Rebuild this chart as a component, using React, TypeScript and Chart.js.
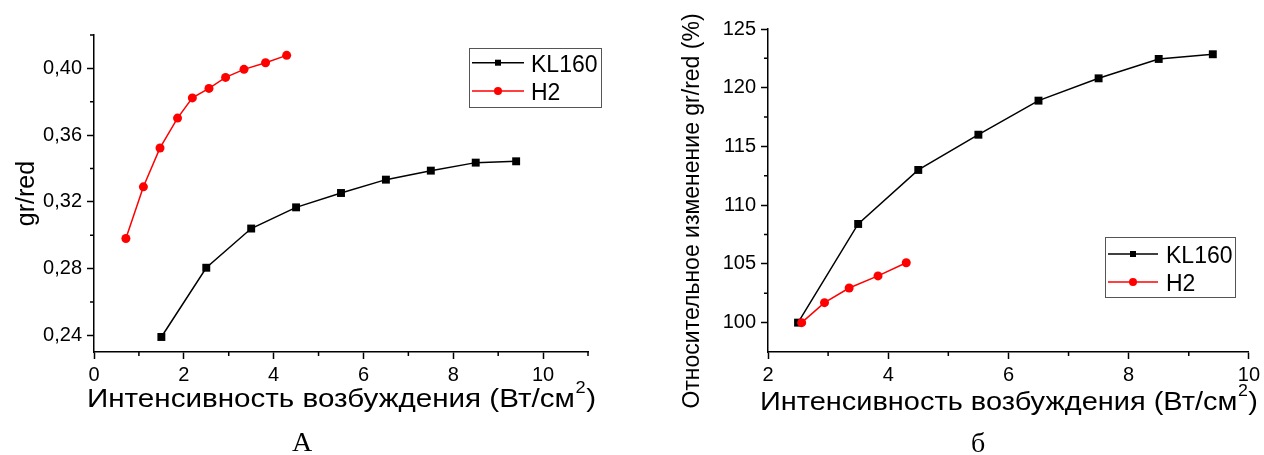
import React, { useEffect, useRef } from 'react';
import { Chart, registerables } from 'chart.js';

Chart.register(...registerables);

// ---------- data ----------
const SERIES_LABELS = ['KL160', 'H2'];
const SERIES_COLORS = ['#000000', '#ff0000'];

// Panel A: gr/red vs excitation intensity
const A_KL160_X = [1.5, 2.5, 3.5, 4.5, 5.5, 6.5, 7.5, 8.5, 9.4];
const A_KL160_Y = [0.239, 0.2805, 0.304, 0.3167, 0.3253, 0.3333, 0.3387, 0.3435, 0.3443];
const A_H2_X = [0.71, 1.1, 1.47, 1.86, 2.19, 2.56, 2.93, 3.34, 3.82, 4.29];
const A_H2_Y = [0.298, 0.329, 0.3523, 0.3702, 0.3823, 0.388, 0.3946, 0.3994, 0.4034, 0.4078];

// Panel б: relative change of gr/red (%)
const B_KL160_X = [2.5, 3.5, 4.5, 5.5, 6.5, 7.5, 8.5, 9.4];
const B_KL160_Y = [100, 108.4, 113.0, 116.0, 118.9, 120.8, 122.45, 122.85];
const B_H2_X = [2.56, 2.94, 3.35, 3.83, 4.3];
const B_H2_Y = [100, 101.7, 102.95, 103.98, 105.1];

// ticks
const A_X_TICKS = [0, 2, 4, 6, 8, 10];
const A_X_MINOR = [1, 3, 5, 7, 9, 11];
const A_Y_TICKS = [0.24, 0.28, 0.32, 0.36, 0.4];
const A_Y_MINOR = [0.26, 0.3, 0.34, 0.38, 0.42];
const B_X_TICKS = [2, 4, 6, 8, 10];
const B_X_MINOR = [3, 5, 7, 9];
const B_Y_TICKS = [100, 105, 110, 115, 120, 125];
const B_Y_MINOR = [102.5, 107.5, 112.5, 117.5, 122.5];

// texts
const X_TITLE = 'Интенсивность возбуждения (Вт/см²)';
const A_Y_TITLE = 'gr/red';
const B_Y_TITLE = 'Относительное изменение gr/red (%)';
const CAPTION_A = 'А';
const CAPTION_B = 'б';

const FONT = '"Liberation Sans", Arial, sans-serif';

// ---------- plugins ----------
const minorTicksPlugin = {
  id: 'minorTicks',
  afterDraw(chart: any, _a: any, opts: any) {
    const ctx = chart.ctx;
    const { left, bottom } = chart.chartArea;
    const len = opts.length || 4;
    ctx.save();
    ctx.strokeStyle = '#000';
    ctx.lineWidth = 1.5;
    ctx.beginPath();
    (opts.x || []).forEach((v: number) => {
      const px = chart.scales.x.getPixelForValue(v);
      ctx.moveTo(px, bottom);
      ctx.lineTo(px, bottom + len);
    });
    (opts.y || []).forEach((v: number) => {
      const py = chart.scales.y.getPixelForValue(v);
      ctx.moveTo(left, py);
      ctx.lineTo(left - len, py);
    });
    ctx.stroke();
    ctx.restore();
  },
};

const axisTitlesPlugin = {
  id: 'axisTitles',
  afterDraw(chart: any, _a: any, opts: any) {
    const ctx = chart.ctx;
    ctx.save();
    ctx.fillStyle = '#000';
    const xt = opts.x;
    if (xt) {
      const parts = xt.text.split('²');
      const mainFont = `${xt.size}px ${FONT}`;
      const supFont = `${Math.round(xt.size * 0.6)}px ${FONT}`;
      ctx.font = mainFont;
      const w1 = ctx.measureText(parts[0]).width;
      const w2 = parts.length > 1 ? ctx.measureText(parts[1]).width : 0;
      ctx.font = supFont;
      const ws = parts.length > 1 ? ctx.measureText('2').width + 1 : 0;
      const total = w1 + ws + w2;
      const sx = xt.width ? xt.width / total : 1;
      ctx.save();
      ctx.translate(xt.cx, xt.baseline);
      ctx.scale(sx, 1);
      const x0 = -total / 2;
      ctx.textAlign = 'left';
      ctx.textBaseline = 'alphabetic';
      ctx.font = mainFont;
      ctx.fillText(parts[0], x0, 0);
      if (parts.length > 1) {
        ctx.font = supFont;
        ctx.fillText('2', x0 + w1 + 0.5, -xt.size * 0.54);
        ctx.font = mainFont;
        ctx.fillText(parts[1], x0 + w1 + ws, 0);
      }
      ctx.restore();
    }
    const yt = opts.y;
    if (yt) {
      ctx.translate(yt.cx, yt.cy);
      ctx.rotate(-Math.PI / 2);
      ctx.font = `${yt.size}px ${FONT}`;
      ctx.textAlign = 'center';
      ctx.textBaseline = 'middle';
      ctx.fillText(yt.text, 0, 0);
    }
    ctx.restore();
  },
};

const legendBoxPlugin = {
  id: 'legendBox',
  afterDraw(chart: any, _a: any, o: any) {
    const ctx = chart.ctx;
    ctx.save();
    ctx.strokeStyle = '#555';
    ctx.lineWidth = 1;
    ctx.strokeRect(o.x + 0.5, o.y + 0.5, o.w, o.h);
    chart.data.datasets.forEach((ds: any, i: number) => {
      const cy = o.y + o.firstRow + i * o.rowH;
      const lx = o.x + o.lineX;
      ctx.strokeStyle = ds.borderColor;
      ctx.lineWidth = ds.borderWidth;
      ctx.beginPath();
      ctx.moveTo(lx, cy);
      ctx.lineTo(lx + o.lineLen, cy);
      ctx.stroke();
      const mx = lx + o.lineLen / 2;
      ctx.fillStyle = ds.backgroundColor;
      if (ds.pointStyle === 'rect') {
        ctx.fillRect(mx - 3, cy - 3, 6, 6);
      } else {
        ctx.beginPath();
        ctx.arc(mx, cy, 4, 0, Math.PI * 2);
        ctx.fill();
      }
      ctx.fillStyle = '#000';
      ctx.font = `${o.fontSize}px ${FONT}`;
      ctx.textAlign = 'left';
      ctx.textBaseline = 'alphabetic';
      ctx.fillText(ds.label, o.x + o.textX, cy + 9);
    });
    ctx.restore();
  },
};

// ---------- config builders ----------
function toPoints(xs: number[], ys: number[]) {
  return xs.map((x, i) => ({ x, y: ys[i] }));
}

function dataset(idx: number, xs: number[], ys: number[]) {
  const isRect = idx === 0;
  return {
    label: SERIES_LABELS[idx],
    data: toPoints(xs, ys),
    borderColor: SERIES_COLORS[idx],
    backgroundColor: SERIES_COLORS[idx],
    borderWidth: 1.5,
    pointStyle: isRect ? 'rect' : 'circle',
    pointRadius: isRect ? 5.6 : 4.5,
    pointBorderWidth: 0,
    pointBackgroundColor: SERIES_COLORS[idx],
    tension: 0,
    order: isRect ? 1 : 0,
  };
}

function scale(
  min: number,
  max: number,
  ticks: number[],
  fmt: (v: number) => string,
  fit: (s: any) => void,
  padding: number,
) {
  return {
    type: 'linear',
    min,
    max,
    afterBuildTicks: (s: any) => {
      s.ticks = ticks.map((v) => ({ value: v }));
    },
    afterFit: fit,
    ticks: {
      callback: (v: any) => fmt(Number(v)),
      color: '#000',
      font: { family: FONT, size: 20 },
      padding,
      autoSkip: false,
      maxRotation: 0,
    },
    grid: {
      drawOnChartArea: false,
      drawTicks: true,
      tickLength: 7,
      tickColor: '#000',
      tickWidth: 1.5,
    },
    border: { display: true, color: '#000', width: 1.5 },
  };
}

const fmtInt = (v: number) => String(Math.round(v));
const fmtComma = (v: number) => v.toFixed(2).replace('.', ',');

function configA(): any {
  return {
    type: 'line',
    data: {
      datasets: [dataset(0, A_KL160_X, A_KL160_Y), dataset(1, A_H2_X, A_H2_Y)],
    },
    options: {
      responsive: false,
      animation: false,
      devicePixelRatio: 1,
      layout: { padding: { top: 35, right: 44, left: 0, bottom: 0 } },
      scales: {
        x: { ...scale(0, 11, A_X_TICKS, fmtInt, (s: any) => { s.height = 103; }, 4), position: 'bottom' },
        y: scale(0.23, 0.42, A_Y_TICKS, fmtComma, (s: any) => { s.width = 94; }, 5),
      },
      plugins: {
        legend: { display: false },
        tooltip: { enabled: false },
        minorTicks: { x: A_X_MINOR, y: A_Y_MINOR, length: 4 },
        axisTitles: {
          x: { text: X_TITLE, cx: 341.5, baseline: 407, size: 26, width: 509 },
          y: { text: A_Y_TITLE, cx: 27.5, cy: 193.5, size: 25 },
        },
        legendBox: { x: 469, y: 48, w: 132, h: 59, firstRow: 14.7, rowH: 28.3, lineX: 3, lineLen: 52, textX: 62, fontSize: 23 },
      },
    },
    plugins: [minorTicksPlugin, axisTitlesPlugin, legendBoxPlugin],
  };
}

function configB(): any {
  return {
    type: 'line',
    data: {
      datasets: [dataset(0, B_KL160_X, B_KL160_Y), dataset(1, B_H2_X, B_H2_Y)],
    },
    options: {
      responsive: false,
      animation: false,
      devicePixelRatio: 1,
      layout: { padding: { top: 29, right: 13, left: 0, bottom: 0 } },
      scales: {
        x: { ...scale(2, 10, B_X_TICKS, fmtInt, (s: any) => { s.height = 103; }, 4), position: 'bottom' },
        y: scale(97.5, 125, B_Y_TICKS, fmtInt, (s: any) => { s.width = 136; }, 5),
      },
      plugins: {
        legend: { display: false },
        tooltip: { enabled: false },
        minorTicks: { x: B_X_MINOR, y: B_Y_MINOR, length: 4 },
        axisTitles: {
          x: { text: X_TITLE, cx: 377, baseline: 410, size: 26, width: 498 },
          y: { text: B_Y_TITLE, cx: 60.5, cy: 211, size: 23 },
        },
        legendBox: { x: 473, y: 237, w: 130, h: 60, firstRow: 17, rowH: 28, lineX: 3, lineLen: 50, textX: 61, fontSize: 23 },
      },
    },
    plugins: [minorTicksPlugin, axisTitlesPlugin, legendBoxPlugin],
  };
}

function Panel({ make, left }: { make: () => any; left: number }) {
  const ref = useRef<HTMLCanvasElement>(null);
  useEffect(() => {
    const chart = new Chart(ref.current as HTMLCanvasElement, make());
    return () => chart.destroy();
  }, []);
  return (
    <div style={{ position: 'absolute', left, top: 0, width: 632, height: 455 }}>
      <canvas ref={ref} width={632} height={455} style={{ width: 632, height: 455, display: 'block' }} />
    </div>
  );
}

const captionStyle: React.CSSProperties = {
  position: 'absolute',
  width: 60,
  textAlign: 'center',
  fontFamily: '"Liberation Serif", "Times New Roman", serif',
  fontSize: 28,
  lineHeight: '28px',
  color: '#000',
};

export default function App() {
  return (
    <div style={{ position: 'fixed', left: 0, top: 0, width: 1264, height: 455, background: '#fff', overflow: 'hidden' }}>
      <Panel make={configA} left={0} />
      <Panel make={configB} left={632} />
      <div style={{ ...captionStyle, left: 302 - 30, top: 428 }}>{CAPTION_A}</div>
      <div style={{ ...captionStyle, left: 978 - 30, top: 429 }}>{CAPTION_B}</div>
    </div>
  );
}
